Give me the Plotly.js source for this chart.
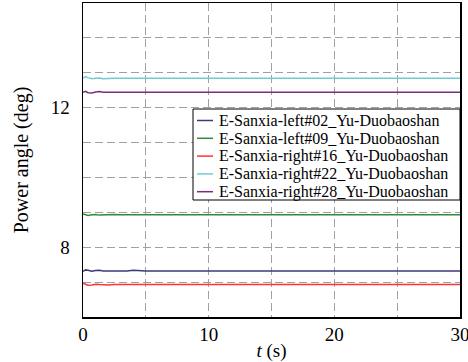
<!DOCTYPE html>
<html>
<head>
<meta charset="utf-8">
<script src="https://cdn.plot.ly/plotly-3.0.1.min.js"></script>
<style>html,body{margin:0;padding:0;background:#fff;}#chart{width:468px;height:362px;}</style>
</head>
<body>
<div id="chart"></div>
<script>
// ---- data ----
var time = [0, 0.2, 0.4, 0.7, 1.0, 1.3, 1.6, 2.0, 2.5, 3.0, 3.5, 4.0, 4.5, 5.0, 10, 15, 20, 25, 30];
var seriesNames = [
  "E-Sanxia-left#02_Yu-Duobaoshan",
  "E-Sanxia-left#09_Yu-Duobaoshan",
  "E-Sanxia-right#16_Yu-Duobaoshan",
  "E-Sanxia-right#22_Yu-Duobaoshan",
  "E-Sanxia-right#28_Yu-Duobaoshan"
];
var left02  = [7.31, 7.35, 7.34, 7.31, 7.33, 7.34, 7.32, 7.32, 7.31, 7.32, 7.32, 7.34, 7.32, 7.32, 7.32, 7.32, 7.32, 7.32, 7.32];
var left09  = [8.95, 8.93, 8.91, 8.93, 8.94, 8.92, 8.93, 8.93, 8.94, 8.93, 8.93, 8.93, 8.93, 8.93, 8.93, 8.93, 8.93, 8.93, 8.93];
var right16 = [6.97, 6.95, 6.91, 6.92, 6.94, 6.93, 6.92, 6.92, 6.93, 6.93, 6.93, 6.93, 6.93, 6.93, 6.93, 6.93, 6.93, 6.93, 6.93];
var right22 = [12.85, 12.89, 12.86, 12.83, 12.84, 12.85, 12.83, 12.84, 12.84, 12.84, 12.84, 12.84, 12.84, 12.84, 12.84, 12.84, 12.84, 12.84, 12.84];
var right28 = [12.44, 12.47, 12.43, 12.42, 12.45, 12.46, 12.44, 12.44, 12.44, 12.44, 12.44, 12.44, 12.44, 12.44, 12.44, 12.44, 12.44, 12.44, 12.44];
var seriesValues = [left02, left09, right16, right22, right28];
var seriesColors = ["#3b3b78", "#2f8a3c", "#ff3333", "#72cbd4", "#7a2d7e"];

var xTickVals = [0, 5, 10, 15, 20, 25, 30];
var xTickText = ["0", "", "10", "", "20", "", "30"];
var yTickVals = [6, 7, 8, 9, 10, 11, 12, 13, 14, 15];
var yTickText = ["", "", "8", "", "", "", "12", "", "", ""];

// ---- layout helpers ----
var W = 468, H = 362;
var M = {l: 83, r: 8, t: 3, b: 45};
var PW = W - M.l - M.r, PH = H - M.t - M.b;
function px(x) { return (x - M.l) / PW; }
function py(y) { return (H - M.b - y) / PH; }

var FONT = "Liberation Serif, Times New Roman, serif";

var traces = seriesValues.map(function (v, i) {
  return {
    x: time, y: v, type: "scatter", mode: "lines", name: seriesNames[i],
    line: {color: seriesColors[i], width: 1.5}, showlegend: false
  };
});

// custom legend (box + short line samples + labels)
var shapes = [{
  type: "rect", xref: "paper", yref: "paper",
  x0: px(193), x1: px(460), y0: py(200), y1: py(109),
  line: {color: "#000", width: 1}, fillcolor: "#fff", layer: "above"
}];
var annotations = [];
var rowY0 = 120.5, rowStep = 17.8;
seriesNames.forEach(function (nm, i) {
  var yy = rowY0 + i * rowStep;
  shapes.push({
    type: "line", xref: "paper", yref: "paper",
    x0: px(197), x1: px(213), y0: py(yy), y1: py(yy),
    line: {color: seriesColors[i], width: 1.5}, layer: "above"
  });
  annotations.push({
    xref: "paper", yref: "paper", x: px(217), y: py(yy),
    xanchor: "left", yanchor: "middle", showarrow: false,
    text: nm, font: {family: FONT, size: 16, color: "#000"}
  });
});

var layout = {
  width: W, height: H,
  margin: M,
  paper_bgcolor: "#fff", plot_bgcolor: "#fff",
  font: {family: FONT, size: 19, color: "#000"},
  showlegend: false,
  xaxis: {
    range: [0, 30], tickvals: xTickVals, ticktext: xTickText,
    showgrid: true, gridcolor: "#a0a0a0", griddash: "8px,4px", gridwidth: 1,
    showline: true, linecolor: "#000", linewidth: 1.5, mirror: true,
    zeroline: false, ticks: "", ticklabeloverflow: "allow",
    tickfont: {family: FONT, size: 19},
    title: {text: "<i>t</i> (s)", font: {family: FONT, size: 19}, standoff: 2}
  },
  yaxis: {
    range: [6, 15], tickvals: yTickVals, ticktext: yTickText,
    showgrid: true, gridcolor: "#a0a0a0", griddash: "8px,4px", gridwidth: 1,
    showline: true, linecolor: "#000", linewidth: 1.5, mirror: true,
    zeroline: false, ticks: "", ticklabelstandoff: 8,
    tickfont: {family: FONT, size: 19},
    title: {text: "Power angle (deg)", font: {family: FONT, size: 20}, standoff: 16}
  },
  shapes: shapes,
  annotations: annotations
};

Plotly.newPlot("chart", traces, layout, {displayModeBar: false, staticPlot: true});
</script>
</body>
</html>
